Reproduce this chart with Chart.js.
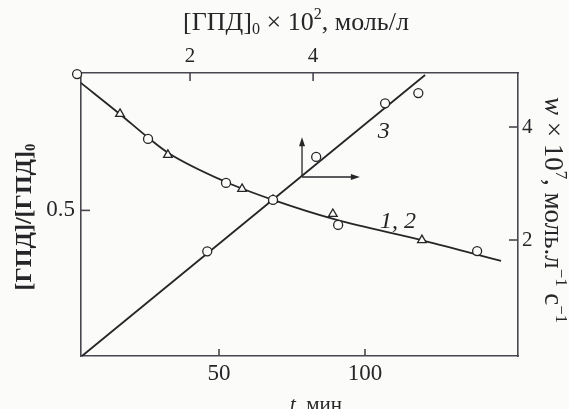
<!DOCTYPE html>
<html><head><meta charset="utf-8">
<script src="https://cdn.jsdelivr.net/npm/chart.js@4.4.0/dist/chart.umd.min.js"></script>
<style>html,body{margin:0;padding:0;background:#fbfbf9;overflow:hidden}</style>
</head><body>
<canvas id="c" width="569" height="409" style="display:block;width:569px;height:409px"></canvas>
<script>
// ---- data ----
const bottomTicks = [50, 100];          // t, мин
const topTicks = [2, 4];                // [ГПД]0 x 10^2, моль/л
const leftTicks = [0.5];                // [ГПД]/[ГПД]0
const rightTicks = [2, 4];              // w x 10^7
// curve 1,2 (fitted line)
const curveT = [2.7, 16, 25.7, 32.5, 52, 68.5, 90, 120, 146.6];
const curveY = [0.964, 0.851, 0.765, 0.71, 0.605, 0.538, 0.466, 0.39, 0.316];
// curve 1 (triangles)
const triT = [16.1, 32.5, 57.9, 68.5, 89.0, 119.5];
const triY = [0.851, 0.702, 0.578, 0.538, 0.487, 0.392];
// curve 2 (circles)
const circT = [1.4, 25.7, 52.4, 68.5, 90.8, 138.4];
const circY = [0.996, 0.760, 0.600, 0.538, 0.447, 0.352];
// line 3 (w vs [ГПД]0)
const line3C = [0.244, 5.82];
const line3W = [-0.053, 4.92];
const pts3C = [2.28, 4.05, 5.17, 5.71];
const pts3W = [1.80, 3.47, 4.42, 4.60];
// axis-indicating arrows (in line-3 coordinates): origin, up end, right end
const arrowC = [3.82, 3.82, 4.76];
const arrowW = [3.115, 3.82, 3.115];
// curve labels
const curveLabels = ['3', '1, 2'];
const curveLabelAxes = [['x2','y2'], ['x','y']];
const curveLabelX = [5.15, 111.3];
const curveLabelY = [3.91, 0.458];

const BG = '#fbfbf9';
const INK = '#262628';
const AXIS = '#4a4650';
const FAM = "'Liberation Serif','DejaVu Serif',serif";

const pairs = (xs, ys) => xs.map((v, i) => ({x: v, y: ys[i]}));

function drawRich(ctx, segs, cx, cy, rot, size, weight) {
  ctx.save();
  ctx.translate(cx, cy);
  ctx.rotate(rot);
  const fontFor = s => {
    const sz = (s === 'sub' || s === 'sup') ? size * 0.62 : size;
    const it = s === 'i' ? 'italic ' : '';
    return it + weight + ' ' + sz + 'px ' + FAM;
  };
  let total = 0; const widths = [];
  segs.forEach(([t, s]) => { ctx.font = fontFor(s); const w = ctx.measureText(t).width; widths.push(w); total += w; });
  let x = -total / 2;
  ctx.textBaseline = 'alphabetic';
  ctx.textAlign = 'left';
  ctx.fillStyle = INK;
  segs.forEach(([t, s], i) => {
    ctx.font = fontFor(s);
    let dy = size * 0.33;
    if (s === 'sup') dy -= size * 0.40;
    if (s === 'sub') dy += size * 0.18;
    ctx.fillText(t, x, dy);
    x += widths[i];
  });
  ctx.restore();
}

const decor = {
  id: 'decor',
  beforeDraw(chart) {
    const ctx = chart.ctx;
    ctx.save(); ctx.fillStyle = BG; ctx.fillRect(0, 0, chart.width, chart.height); ctx.restore();
  },
  afterDatasetsDraw(chart) {
    const ctx = chart.ctx, s = chart.scales, a = chart.chartArea;
    ctx.save();
    ctx.strokeStyle = AXIS; ctx.lineWidth = 1.6;
    // inward ticks
    bottomTicks.forEach(v => { const p = s.x.getPixelForValue(v); ctx.beginPath(); ctx.moveTo(p, a.bottom); ctx.lineTo(p, a.bottom - 7); ctx.stroke(); });
    topTicks.forEach(v => { const p = s.x2.getPixelForValue(v); ctx.beginPath(); ctx.moveTo(p, a.top); ctx.lineTo(p, a.top + 8); ctx.stroke(); });
    leftTicks.forEach(v => { const p = s.y.getPixelForValue(v); ctx.beginPath(); ctx.moveTo(a.left, p); ctx.lineTo(a.left + 9, p); ctx.stroke(); });
    rightTicks.forEach(v => { const p = s.y2.getPixelForValue(v); ctx.beginPath(); ctx.moveTo(a.right, p); ctx.lineTo(a.right - 9, p); ctx.stroke(); });
    // arrows
    ctx.strokeStyle = INK; ctx.fillStyle = INK; ctx.lineWidth = 1.3;
    const ox = s.x2.getPixelForValue(arrowC[0]), oy = s.y2.getPixelForValue(arrowW[0]);
    const ux = s.x2.getPixelForValue(arrowC[1]), uy = s.y2.getPixelForValue(arrowW[1]);
    const rx = s.x2.getPixelForValue(arrowC[2]), ry = s.y2.getPixelForValue(arrowW[2]);
    ctx.beginPath(); ctx.moveTo(ox, oy); ctx.lineTo(ux, uy + 6); ctx.stroke();
    ctx.beginPath(); ctx.moveTo(ux, uy); ctx.lineTo(ux - 3, uy + 9); ctx.lineTo(ux + 3, uy + 9); ctx.closePath(); ctx.fill();
    ctx.beginPath(); ctx.moveTo(ox, oy); ctx.lineTo(rx - 6, ry); ctx.stroke();
    ctx.beginPath(); ctx.moveTo(rx, ry); ctx.lineTo(rx - 9, ry - 3); ctx.lineTo(rx - 9, ry + 3); ctx.closePath(); ctx.fill();
    // curve labels
    ctx.fillStyle = INK;
    ctx.font = 'italic 24px ' + FAM;
    ctx.textAlign = 'center'; ctx.textBaseline = 'middle';
    curveLabels.forEach((t, i) => {
      const [xa, ya] = curveLabelAxes[i];
      ctx.fillText(t, s[xa].getPixelForValue(curveLabelX[i]), s[ya].getPixelForValue(curveLabelY[i]));
    });
    ctx.restore();
  },
  afterDraw(chart) {
    const ctx = chart.ctx;
    drawRich(ctx, [['[ГПД]', 'n'], ['0', 'sub'], [' × 10', 'n'], ['2', 'sup'], [', моль/л', 'n']], 296, 21, 0, 26, 'normal');
    drawRich(ctx, [['[ГПД]/[ГПД]', 'n'], ['0', 'sub']], 23, 217, -Math.PI / 2, 24, 'bold');
    drawRich(ctx, [['w', 'i'], [' × 10', 'n'], ['7', 'sup'], [', моль.л', 'n'], ['−1', 'sup'], [' с', 'n'], ['−1', 'sup']], 554, 210, Math.PI / 2, 27, 'normal');
    drawRich(ctx, [['t', 'i'], [', мин', 'n']], 316, 404, 0, 21, 'normal');
  }
};

const tickFont = sz => ({family: FAM, size: sz});
const border = {display: true, color: AXIS, width: 1.6};

new Chart(document.getElementById('c'), {
  type: 'scatter',
  data: {
    datasets: [
      {label: '2', data: pairs(circT, circY), pointStyle: 'circle', pointRadius: 4.5, pointBorderWidth: 1.3,
       pointBorderColor: INK, pointBackgroundColor: BG, showLine: false, clip: false},
      {label: '1', data: pairs(triT, triY), pointStyle: 'triangle', pointRadius: 5, pointBorderWidth: 1.3,
       pointBorderColor: INK, pointBackgroundColor: BG, showLine: false, clip: false},
      {label: '3pts', data: pairs(pts3C, pts3W), xAxisID: 'x2', yAxisID: 'y2', pointStyle: 'circle', pointRadius: 4.5,
       pointBorderWidth: 1.3, pointBorderColor: INK, pointBackgroundColor: BG, showLine: false, clip: false},
      {label: '1,2', data: pairs(curveT, curveY), showLine: true, pointRadius: 0, borderColor: INK, borderWidth: 1.8,
       cubicInterpolationMode: 'monotone', clip: false},
      {label: '3', data: pairs(line3C, line3W), xAxisID: 'x2', yAxisID: 'y2', showLine: true, pointRadius: 0,
       borderColor: INK, borderWidth: 1.8, clip: false}
    ]
  },
  options: {
    responsive: false, animation: false, devicePixelRatio: 1,
    layout: {padding: 0},
    plugins: {legend: {display: false}, tooltip: {enabled: false}},
    scales: {
      x: {type: 'linear', position: 'bottom', min: 2.74, max: 152.4,
          grid: {display: false, drawTicks: false}, border,
          ticks: {font: tickFont(23), color: INK, padding: 4},
          afterBuildTicks: sc => { sc.ticks = bottomTicks.map(v => ({value: v})); },
          afterFit: sc => { sc.height = 53; }},
      x2: {type: 'linear', position: 'top', min: 0.228, max: 7.33,
          grid: {display: false, drawTicks: false}, border,
          ticks: {font: tickFont(21), color: INK, padding: 4},
          afterBuildTicks: sc => { sc.ticks = topTicks.map(v => ({value: v})); },
          afterFit: sc => { sc.height = 73; }},
      y: {type: 'linear', position: 'left', min: -0.03, max: 1.0,
          grid: {display: false, drawTicks: false}, border,
          ticks: {font: tickFont(23), color: INK, padding: 6},
          afterBuildTicks: sc => { sc.ticks = leftTicks.map(v => ({value: v})); },
          afterFit: sc => { sc.width = 81; }},
      y2: {type: 'linear', position: 'right', min: -0.053, max: 4.956,
          grid: {display: false, drawTicks: false}, border,
          ticks: {font: tickFont(21), color: INK, padding: 4},
          afterBuildTicks: sc => { sc.ticks = rightTicks.map(v => ({value: v})); },
          afterFit: sc => { sc.width = 51; }}
    }
  },
  plugins: [decor]
});
</script>
</body></html>
